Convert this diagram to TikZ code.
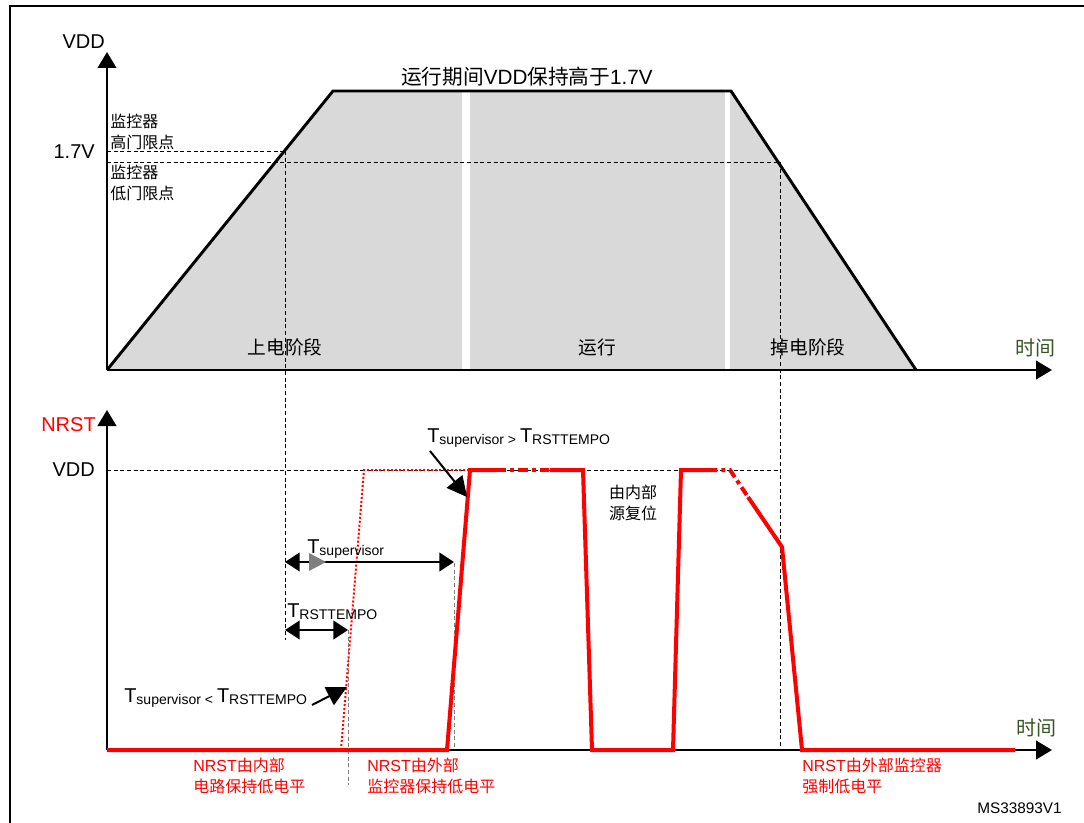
\documentclass[tikz,border=0pt]{standalone}
\usepackage{fontspec}
\setmainfont{Liberation Sans}
\newfontfamily\cjk{Noto Sans CJK SC}
\usetikzlibrary{arrows.meta}

\newcommand\zh[1]{{\cjk #1}}
\newcommand\Tsub[2][2pt]{T\raisebox{-#1}{\fontsize{10.5pt}{12pt}\selectfont #2}}

\definecolor{phasegray}{RGB}{217,217,217}
\definecolor{timegreen}{RGB}{55,86,35}

\begin{document}
\begin{tikzpicture}[
	x=0.75pt, y=-0.75pt,
	axis/.style = {line width=1.5pt, -{Triangle[length=12pt,width=14pt]}},
	guide/.style = {thin, dash pattern=on 3pt off 2pt},
	gray guide/.style = {guide, gray},
	supply/.style = {line width=2.2pt},
	signal/.style = {red, line width=3pt},
	signal dashed/.style = {signal, dash pattern=on 7pt off 3pt on 3pt off 3pt},
	signal dotted/.style = {red, line width=1.5pt, dash pattern=on 1.5pt off 1.5pt},
	span/.style = {line width=1.5pt, {Triangle[length=11pt,width=14pt]}-{Triangle[length=11pt,width=14pt]}},
	callout/.style = {line width=1.5pt, -{Triangle[length=15pt,width=15pt]}},
	axis label/.style = {font=\fontsize{15pt}{18pt}\selectfont, inner sep=0pt},
	time label/.style = {axis label, text=timegreen},
	phase/.style = {font=\fontsize{14pt}{17pt}\selectfont, inner sep=0pt},
	note/.style = {font=\fontsize{12pt}{16pt}\selectfont, inner sep=0pt, align=left},
	red note/.style = {note, text=red},
	time/.style = {font=\fontsize{15pt}{18pt}\selectfont, inner sep=0pt, anchor=base west},
]
	\useasboundingbox (0,0) rectangle (1084,823);

	%% Frame
	\draw[line width=1.5pt] (10,823) -- (10,6) -- (1084,6);

	%% ---------------- VDD chart ----------------
	\coordinate (O1) at (107,370);
	\coordinate (vdd tip) at (107,52);
	\coordinate (t1 tip) at (1052,370);

	%% Supply ramp, filled by phase
	\fill[phasegray] (O1) -- (333,91) -- (731,91) -- (916,370) -- cycle;
	\foreach \a/\b in {462/470, 725/730}{%
		\fill[white] (\a,92) rectangle (\b,369);
	}

	%% Thresholds and guide lines
	\draw[guide] (107,151) -- (285,151);
	\draw[guide] (107,162) -- (780,162);
	\draw[guide] (285,151) -- (285,640);
	\draw[guide] (780,162) -- (780,750);

	\draw[axis] (O1) -- (vdd tip);
	\draw[axis] (O1) -- (t1 tip);
	\draw[supply] (O1) -- (333,91) -- (731,91) -- (916,370);

	\node[axis label, anchor=east] (vdd1) at (105,42) {VDD};
	\node[axis label, anchor=east] (v17) at (95,152) {1.7V};
	\node[time label] (time1) at (1035,348) {\zh{时间}};
	\node[font=\fontsize{15.5pt}{18pt}\selectfont, inner sep=0pt] (run note) at (527,77)
		{\zh{运行期间}VDD\zh{保持高于}1.7V};

	\node[note, anchor=west] (hi th) at (110,132) {\zh{监控器}\\\zh{高门限点}};
	\node[note, anchor=west] (lo th) at (110,183) {\zh{监控器}\\\zh{低门限点}};

	%% Phase names
	\foreach \x/\t [count=\i] in {285/上电阶段, 597/运行, 808/掉电阶段}{%
		\node[phase] (phase-\i) at (\x,347) {\zh{\t}};
	}

	%% ---------------- NRST chart ----------------
	\coordinate (O2) at (107,750);
	\coordinate (nrst tip) at (107,410);
	\coordinate (t2 tip) at (1052,750);

	\draw[guide] (107,470) -- (780,470);
	\draw[gray guide] (454,563) -- (454,750);
	\draw[gray guide] (348,630) -- (348,785);

	\draw[axis] (O2) -- (nrst tip);
	\draw[axis] (O2) -- (t2 tip);

	\node[axis label, anchor=east, text=red] (nrst) at (96,425) {NRST};
	\node[axis label, anchor=east] (vdd2) at (95,470) {VDD};
	\node[time label] (time2) at (1036,728) {\zh{时间}};

	%% Internal reset release (dotted)
	\draw[signal dotted] (341,750) -- (364,470) -- (470,470);

	%% NRST waveform
	\draw[signal] (107,750) -- (447,750) -- (470,470) -- (497,470);
	\draw[signal dashed] (497,470) -- (550,470);
	\draw[signal] (550,470) -- (583,470) -- (592,750) -- (673,750) -- (681,470) -- (708,470);
	\draw[signal dashed] (708,470) -- (730,470) -- (748,497);
	\draw[signal] (748,497) -- (782,547) -- (802,750) -- (1015,750);

	%% Timing spans
	\draw[span] (285,562) -- (454,562);
	\fill[gray] (309,553) -- (326,562) -- (309,571) -- cycle;
	\node[time] (t sup) at (307,553) {\Tsub[1.5pt]{supervisor}};
	\draw[span] (285,630) -- (348,630);
	\node[time] (t rst) at (287,617) {\Tsub[1.5pt]{RSTTEMPO}};

	%% Callouts
	\node[time] (gt label) at (427,442) {\Tsub{supervisor > }\Tsub{RSTTEMPO}};
	\coordinate (gt from) at (430,451);
	\coordinate (gt to) at (467,497);
	\draw[callout] (gt from) -- (gt to);

	\node[time] (lt label) at (124,702) {\Tsub{supervisor < }\Tsub{RSTTEMPO}};
	\coordinate (lt from) at (312,705);
	\coordinate (lt to) at (347,687);
	\draw[callout] (lt from) -- (lt to);

	%% Notes
	\node[note, align=center] (int src) at (633,503) {\zh{由内部}\\\zh{源复位}};
	\node[red note, anchor=west] (low int) at (193,776) {NRST\zh{由内部}\\\zh{电路保持低电平}};
	\node[red note, anchor=west] (low ext) at (367,776) {NRST\zh{由外部}\\\zh{监控器保持低电平}};
	\node[red note, anchor=west] (low force) at (802,776) {NRST\zh{由外部监控器}\\\zh{强制低电平}};

	\node[font=\fontsize{11.5pt}{14pt}\selectfont, inner sep=0pt, anchor=east] (ref id) at (1062,808) {MS33893V1};

\end{tikzpicture}
\end{document}
